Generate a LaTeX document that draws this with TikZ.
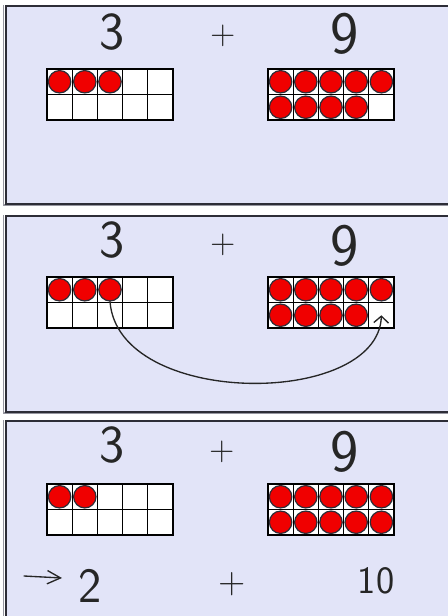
\documentclass[tikz,border=0pt]{standalone}
\usetikzlibrary{arrows.meta}
\definecolor{lav}{RGB}{226,228,248}
\definecolor{tfred}{RGB}{240,0,0}
\definecolor{edge}{RGB}{45,45,55}
\definecolor{shade}{RGB}{150,150,160}
\tikzset{
  panel/.style={fill=lav,draw=edge,line width=1.3pt},
  panelshadow/.style={draw=shade,line width=1pt},
  cellbox/.style={draw=black,fill=white,line width=1pt,inner sep=0pt,
    minimum width=18.9pt,minimum height=19.1pt},
  dot/.style={circle,fill=tfred,draw=edge,line width=0.9pt,inner sep=0pt,minimum size=16.8pt},
  hand/.style={font=\sffamily\fontsize{#1}{#1}\selectfont,inner sep=0pt,text=black!85},
  stroke/.style={draw=black!85,line width=1pt,line cap=round,line join=round},
}
\newcommand{\tframe}[4]{%
  \foreach \r in {1,2}{\foreach \c in {1,...,5}{
    \node[cellbox] (#1-\r-\c) at ({#2+(\c-0.5)*25.2},{#3+(\r-0.5)*25.5}) {};
  }}
  \foreach \k in {1,...,#4}{
    \pgfmathtruncatemacro\rr{int((\k-1)/5)+1}
    \pgfmathtruncatemacro\cc{\k-5*(\rr-1)}
    \node[dot] (#1-d\k) at (#1-\rr-\cc.center) {};
  }%
}
\begin{document}
\begin{tikzpicture}[x=0.75pt,y=-0.75pt]
\useasboundingbox (0,0) rectangle (448,616);
\begin{scope}
\clip (0,0) rectangle (448,616);
% panels
\draw[panelshadow] (3.5,5) -- (3.5,205) -- (470,205);
\draw[panel] (6,6) rectangle (470,204);
\draw[panelshadow] (3.5,215) -- (3.5,413) -- (470,413);
\draw[panel] (6,216) rectangle (470,412);
\draw[panelshadow] (3.5,420) -- (3.5,640);
\draw[panel] (6,421) rectangle (470,640);

% panel 1
\node[hand=40] (n1a) at (112,32) {3};
\node[hand=26] (p1) at (223,36) {+};
\node[hand=45] (n1b) at (345,34) {9};
\tframe{A1}{47}{69}{3}
\tframe{B1}{268}{69}{9}

% panel 2
\node[hand=40] (n2a) at (112,240) {3};
\node[hand=26] (p2) at (223,245) {+};
\node[hand=45] (n2b) at (345,246) {9};
\tframe{A2}{47}{277}{3}
\tframe{B2}{268}{277}{9}
\draw[stroke,-{Straight Barb[length=5pt,width=11pt]}]
  (A2-d3.south) .. controls (118,408) and (378,408) .. (B2-2-5.center);

% panel 3
\node[hand=40] (n3a) at (112,445) {3};
\node[hand=26] (p3) at (222,452) {+};
\node[hand=45] (n3b) at (345,452) {9};
\tframe{A3}{47}{484}{2}
\tframe{B3}{268}{484}{10}
\coordinate (arrs) at (24,576);
\coordinate (arre) at (62,578);
\node[hand=37] (r2) at (90,586) {2};
\node[hand=28] (rp) at (232,584) {+};
\node[hand=29] (r10) at (376,581) {10};
\draw[stroke,-{Straight Barb[length=10pt,width=10pt]}] (arrs) -- (arre);
\end{scope}
\end{tikzpicture}
\end{document}
